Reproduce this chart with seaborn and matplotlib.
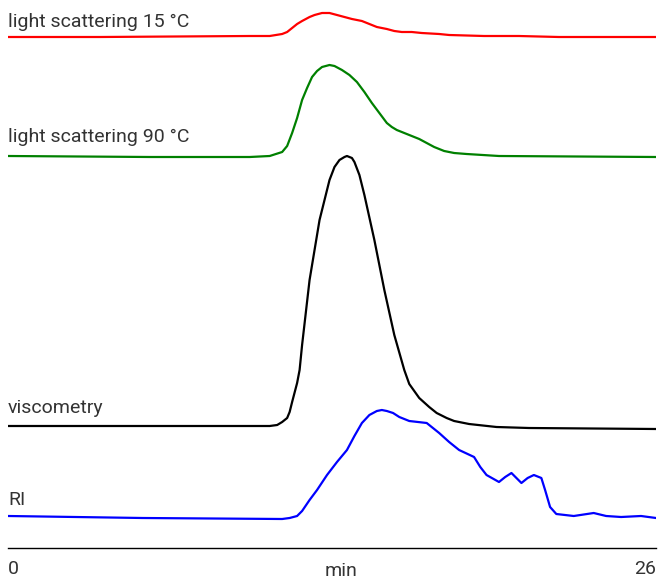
import matplotlib
matplotlib.use("Agg")
import matplotlib.pyplot as plt
import pandas as pd
import seaborn as sns

# retention time (min) and stacked detector signal (arbitrary units, offsets included)
ls15_time = [0, 3.7, 9.7, 10.5, 11.0, 11.2, 11.4, 11.6, 11.8, 12.1, 12.3, 12.6,
             12.9, 13.2, 13.5, 13.8, 14.2, 14.5, 14.8, 15.2, 15.5, 15.8, 16.2,
             16.6, 17.3, 17.7, 19.1, 20.5, 22.1, 26]
ls15_signal = [511, 511, 512, 512, 514, 516, 520, 524, 527, 531, 533, 535,
               535, 533, 531, 529, 527, 524, 521, 519, 517, 516, 516,
               515, 514, 513, 512, 512, 511, 511]

ls90_time = [0, 5.7, 9.7, 10.5, 11.0, 11.2, 11.4, 11.6, 11.8, 12.0, 12.2, 12.4,
             12.6, 12.9, 13.1, 13.4, 13.7, 14.0, 14.3, 14.6, 14.9, 15.2, 15.4,
             15.6, 16.1, 16.5, 16.8, 17.1, 17.5, 17.9, 18.4, 19.7, 26]
ls90_signal = [392, 391, 391, 392, 396, 402, 415, 430, 448, 460, 471, 477,
               481, 483, 482, 478, 473, 466, 456, 445, 435, 425, 421,
               418, 413, 409, 405, 401, 397, 395, 394, 392, 391]

visc_time = [0, 7.7, 10.5, 10.8, 11.0, 11.2, 11.3, 11.4, 11.6, 11.7, 11.8, 12.1,
             12.5, 12.9, 13.1, 13.3, 13.5, 13.6, 13.8, 13.9, 14.1, 14.3, 14.7,
             15.1, 15.5, 15.9, 16.1, 16.5, 16.9, 17.2, 17.6, 17.9, 18.5, 19.6,
             20.9, 26]
visc_signal = [122, 122, 122, 123, 126, 130, 136, 146, 165, 178, 203, 268,
               328, 368, 381, 388, 391, 392, 390, 386, 373, 353, 308,
               258, 213, 178, 164, 150, 141, 135, 130, 127, 124, 121,
               120, 119]

ri_time = [0, 5.4, 11.0, 11.3, 11.6, 11.8, 12.1, 12.4, 12.8, 13.2, 13.6, 13.9,
           14.2, 14.5, 14.8, 15.0, 15.2, 15.45, 15.7, 16.1, 16.45, 16.8, 17.3,
           17.7, 18.1, 18.7, 18.95, 19.2, 19.7, 19.95, 20.2, 20.4, 20.6, 20.85,
           21.1, 21.4, 21.55, 21.75, 22.0, 22.7, 23.5, 24.0, 24.6, 25.4, 26]
ri_signal = [32, 30, 29, 30, 32, 37, 48, 58, 73, 86, 98, 112,
             125, 133, 137, 138, 137, 135, 131, 127, 126, 125, 115,
             106, 98, 91, 81, 73, 66, 71, 75, 70, 65, 70,
             73, 70, 58, 41, 34, 32, 35, 32, 31, 32, 30]

detectors = ["light scattering 15 °C", "light scattering 90 °C", "viscometry", "RI"]
label_heights = [521, 406, 135, 43]
colors = ["#ff0000", "#008000", "#000000", "#0000ff"]

frames = []
for name, t, s in zip(detectors,
                      [ls15_time, ls90_time, visc_time, ri_time],
                      [ls15_signal, ls90_signal, visc_signal, ri_signal]):
    frames.append(pd.DataFrame({"time": t, "signal": s, "detector": name}))
data = pd.concat(frames, ignore_index=True)

sns.set_style("white")
plt.rcParams["font.family"] = ["Roboto", "DejaVu Sans"]

fig = plt.figure(figsize=(6.58, 5.81), dpi=100)
ax = fig.add_axes([8 / 658, 33 / 581, 648 / 658, 548 / 581])

sns.lineplot(data=data, x="time", y="signal", hue="detector", hue_order=detectors,
             palette=colors, estimator=None, sort=False, linewidth=1.6,
             legend=False, ax=ax)

for name, h in zip(detectors, label_heights):
    ax.text(0, h, name, fontsize=14, color="#333333", va="baseline", ha="left")

ax.set_xlim(0, 26)
ax.set_ylim(0, 548)
sns.despine(ax=ax, left=True)
ax.spines["bottom"].set_linewidth(1.0)
ax.spines["bottom"].set_color("black")
ax.set_yticks([])
ax.set_xticks([0, 26])
ax.set_xticklabels(["0", "26"], fontsize=14, color="#333333")
ax.tick_params(axis="x", length=0, pad=9)
tl = ax.get_xticklabels()
tl[0].set_ha("left")
tl[1].set_ha("right")
ax.set_xlabel("min", fontsize=14, color="#333333")
ax.xaxis.set_label_coords((341 - 8) / 648, -0.026)
ax.set_ylabel("")

fig.savefig("out.png", dpi=100)
